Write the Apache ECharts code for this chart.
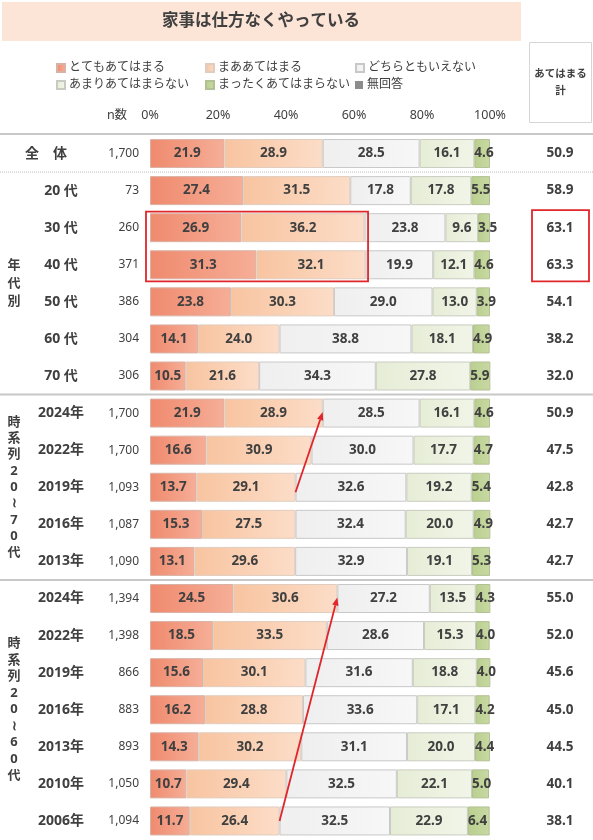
<!DOCTYPE html>
<html>
<head>
<meta charset="utf-8">
<title>家事は仕方なくやっている</title>
<script src="https://cdn.jsdelivr.net/npm/echarts@6/dist/echarts.min.js"></script>
<style>
  html, body { margin: 0; padding: 0; background: #fff; }
  #chart { width: 593px; height: 840px; }
</style>
</head>
<body>
<div id="chart"></div>
<script>
// 行ラベル・n数・各回答の割合（%）・あてはまる計
const categories = ['全　体', '20 代', '30 代', '40 代', '50 代', '60 代', '70 代',
    '2024年', '2022年', '2019年', '2016年', '2013年',
    '2024年', '2022年', '2019年', '2016年', '2013年', '2010年', '2006年'];
const nValues = [1700, 73, 260, 371, 386, 304, 306,
    1700, 1700, 1093, 1087, 1090,
    1394, 1398, 866, 883, 893, 1050, 1094];
const veryTrue = [21.9, 27.4, 26.9, 31.3, 23.8, 14.1, 10.5,
    21.9, 16.6, 13.7, 15.3, 13.1,
    24.5, 18.5, 15.6, 16.2, 14.3, 10.7, 11.7];
const fairlyTrue = [28.9, 31.5, 36.2, 32.1, 30.3, 24.0, 21.6,
    28.9, 30.9, 29.1, 27.5, 29.6,
    30.6, 33.5, 30.1, 28.8, 30.2, 29.4, 26.4];
const neither = [28.5, 17.8, 23.8, 19.9, 29.0, 38.8, 34.3,
    28.5, 30.0, 32.6, 32.4, 32.9,
    27.2, 28.6, 31.6, 33.6, 31.1, 32.5, 32.5];
const notMuch = [16.1, 17.8, 9.6, 12.1, 13.0, 18.1, 27.8,
    16.1, 17.7, 19.2, 20.0, 19.1,
    13.5, 15.3, 18.8, 17.1, 20.0, 22.1, 22.9];
const notAtAll = [4.6, 5.5, 3.5, 4.6, 3.9, 4.9, 5.9,
    4.6, 4.7, 5.4, 4.9, 5.3,
    4.3, 4.0, 4.0, 4.2, 4.4, 5.0, 6.4];
const noAnswer = [0, 0, 0, 0, 0, 0, 0,
    0, 0, 0, 0, 0,
    0, 0, 0, 0, 0, 0, 0];
const totals = [50.9, 58.9, 63.1, 63.3, 54.1, 38.2, 32.0,
    50.9, 47.5, 42.8, 42.7, 42.7,
    55.0, 52.0, 45.6, 45.0, 44.5, 40.1, 38.1];
const xTicks = [0, 20, 40, 60, 80, 100];

const names = ['とてもあてはまる', 'まああてはまる', 'どちらともいえない',
    'あまりあてはまらない', 'まったくあてはまらない', '無回答'];

const chart = echarts.init(document.getElementById('chart'), null, { renderer: 'canvas' });

const FONT = "'Noto Sans', 'Noto Sans CJK JP', sans-serif";
const TXT = '#404040';
const GRID_TOP = 135;
const GRID_BOTTOM = 0.5;
const BAR_H = 29;
const ROW_H = (840 - GRID_TOP - GRID_BOTTOM) / categories.length;

function grad(c1, c2) {
    return new echarts.graphic.LinearGradient(0, 0, 1, 0, [
        { offset: 0, color: c1 },
        { offset: 1, color: c2 }
    ]);
}

const styles = [
    { color: grad('#EF8A6E', '#F6AE97'), borderColor: '#D9B2A6' },
    { color: grad('#F8C4A0', '#FCDDC8'), borderColor: '#E0CDBF' },
    { color: grad('#EFEFEF', '#F7F7F7'), borderColor: '#C8C8C8' },
    { color: grad('#E6EDD6', '#F1F5E8'), borderColor: '#C8CCC0' },
    { color: grad('#BACF8E', '#C8D9A4'), borderColor: '#B3C093' },
    { color: '#8C8C8C', borderColor: '#8C8C8C' }
];
const seriesData = [veryTrue, fairlyTrue, neither, notMuch, notAtAll, noAnswer];

const series = seriesData.map(function (data, i) {
    return {
        name: names[i],
        type: 'bar',
        stack: 'total',
        data: data,
        barWidth: BAR_H,
        yAxisIndex: 0,
        itemStyle: {
            color: styles[i].color,
            borderColor: styles[i].borderColor,
            borderWidth: i === 5 ? 0 : 1
        },
        label: {
            show: i !== 5,
            position: i === 4 ? 'insideLeft' : 'inside',
            distance: 0,
            color: TXT,
            fontFamily: FONT,
            fontSize: 13.5,
            fontWeight: 'bold',
            formatter: function (p) { return p.value.toFixed(1); }
        },
        emphasis: { disabled: true },
        animation: false
    };
});

// 凡例は2段×3列、項目ごとに位置を指定
const legendPos = [[56, 62], [205, 62], [355, 62], [56, 79], [205, 79], [355, 79]];
const legends = names.map(function (n, i) {
    return {
        data: [n],
        left: legendPos[i][0],
        top: legendPos[i][1],
        padding: 0,
        icon: 'rect',
        itemWidth: 8,
        itemHeight: 8,
        selectedMode: false,
        textStyle: { color: TXT, fontSize: 12, fontFamily: FONT, padding: [0, 0, 0, -1] }
    };
});

const yBase = {
    type: 'category',
    data: categories,
    inverse: true,
    gridIndex: 0,
    axisLine: { show: false },
    axisTick: { show: false },
    splitLine: { show: false }
};

const option = {
    backgroundColor: '#fff',
    animation: false,
    legend: legends,
    grid: {
        left: 150,
        right: 103,
        top: GRID_TOP,
        bottom: GRID_BOTTOM,
        containLabel: false,
        outerBoundsMode: 'none'
    },
    xAxis: {
        type: 'value',
        position: 'top',
        min: xTicks[0],
        max: xTicks[xTicks.length - 1],
        interval: xTicks[1] - xTicks[0],
        axisLine: { show: false },
        axisTick: { show: false },
        splitLine: { show: false },
        axisLabel: {
            margin: 13,
            color: TXT,
            fontSize: 12.5,
            fontFamily: FONT,
            formatter: '{value}%'
        }
    },
    yAxis: [
        Object.assign({}, yBase, {
            position: 'left',
            offset: 0,
            axisLabel: {
                interval: 0,
                margin: 89,
                align: 'center',
                color: TXT,
                fontFamily: FONT,
                fontSize: 14,
                fontWeight: 'bold',
                formatter: function (v, idx) {
                    return idx === 0 ? '{z|' + v + '}' : v;
                },
                rich: {
                    z: { fontFamily: FONT, fontSize: 14, fontWeight: 'bold', color: TXT, padding: [0, 30, 0, 0] }
                }
            }
        }),
        Object.assign({}, yBase, {
            position: 'left',
            offset: 0,
            axisLabel: {
                interval: 0,
                margin: 11,
                color: TXT,
                fontFamily: FONT,
                fontSize: 12,
                formatter: function (v, idx) { return nValues[idx].toLocaleString('en-US'); }
            }
        }),
        Object.assign({}, yBase, {
            position: 'right',
            offset: 0,
            axisLabel: {
                interval: 0,
                margin: 70,
                align: 'center',
                color: TXT,
                fontFamily: FONT,
                fontSize: 13.5,
                fontWeight: 'bold',
                formatter: function (v, idx) { return totals[idx].toFixed(1); }
            }
        })
    ],
    series: series
};

chart.setOption(option);

// 区切り線・見出しなどの装飾
function rowEdge(k) { return GRID_TOP + k * ROW_H; }

function vText(str, cx, cy, step) {
    const chars = str.split('');
    return {
        type: 'text',
        style: {
            text: chars.join('\n'),
            x: cx,
            y: cy,
            align: 'center',
            verticalAlign: 'middle',
            lineHeight: step,
            fill: TXT,
            font: 'bold 13px ' + FONT
        }
    };
}

const graphics = [
    { type: 'rect', shape: { x: 2, y: 2, width: 519, height: 39 }, style: { fill: '#FCE4D6' } },
    { type: 'text', style: { text: '家事は仕方なくやっている', x: 261, y: 21, align: 'center', verticalAlign: 'middle', fill: TXT, font: 'bold 16.5px ' + FONT } },
    { type: 'rect', shape: { x: 529.5, y: 42.5, width: 62, height: 80 }, style: { fill: 'none', stroke: '#D6D6D6', lineWidth: 1 } },
    { type: 'text', style: { text: 'あてはまる\n計', x: 560.5, y: 83, align: 'center', verticalAlign: 'middle', lineHeight: 17, fill: TXT, font: 'bold 10.5px ' + FONT } },
    { type: 'text', style: { text: 'n数', x: 117, y: 115, align: 'center', verticalAlign: 'middle', fill: TXT, font: '12.5px ' + FONT } },
    { type: 'line', shape: { x1: 0, y1: rowEdge(0) - 1, x2: 593, y2: rowEdge(0) - 1 }, style: { stroke: '#C8C8C8', lineWidth: 2 } },
    { type: 'line', shape: { x1: 0, y1: rowEdge(1), x2: 593, y2: rowEdge(1) }, style: { stroke: '#BBBBBB', lineWidth: 1, lineDash: [1, 1] } },
    { type: 'line', shape: { x1: 0, y1: rowEdge(7), x2: 593, y2: rowEdge(7) }, style: { stroke: '#C8C8C8', lineWidth: 2 } },
    { type: 'line', shape: { x1: 0, y1: rowEdge(12), x2: 593, y2: rowEdge(12) }, style: { stroke: '#C8C8C8', lineWidth: 2 } },
    vText('年代別', 14, (rowEdge(1) + rowEdge(7)) / 2, 18),
    vText('時系列20≀70代', 14, (rowEdge(7) + rowEdge(12)) / 2, 16.3),
    vText('時系列20≀60代', 14, (rowEdge(12) + rowEdge(19)) / 2, 16.5)
];

// 赤枠と矢印は軸の位置から求める（棒の上に描く）
const RED = '#E0262B';
function px(x, row) { return chart.convertToPixel({ seriesIndex: 0 }, [x, row]); }

const boxRight = Math.max(veryTrue[2] + fairlyTrue[2], veryTrue[3] + fairlyTrue[3]);
const b0 = px(0, 2), b1 = px(boxRight, 3);
graphics.push({
    type: 'rect',
    z: 100,
    shape: { x: b0[0] - 4, y: b0[1] - BAR_H / 2 - 1.5, width: b1[0] - b0[0] + 6.5, height: b1[1] - b0[1] + BAR_H + 3.5 },
    style: { fill: 'none', stroke: RED, lineWidth: 1.8 }
});
const t0 = px(0, 2), t1 = px(0, 3);
graphics.push({
    type: 'rect',
    z: 100,
    shape: { x: 532, y: t0[1] - BAR_H / 2 - 3, width: 57, height: t1[1] - t0[1] + BAR_H + 5 },
    style: { fill: 'none', stroke: RED, lineWidth: 1.8 }
});

function arrow(fromRow, toRow, dy0) {
    const a = px(veryTrue[fromRow] + fairlyTrue[fromRow], fromRow);
    const b = px(veryTrue[toRow] + fairlyTrue[toRow], toRow);
    const x1 = a[0], y1 = a[1] + dy0, x2 = b[0], y2 = b[1] - 1;
    const ang = Math.atan2(y2 - y1, x2 - x1);
    const len = 8, half = 3.2;
    const bx = x2 - len * Math.cos(ang), by = y2 - len * Math.sin(ang);
    graphics.push({
        type: 'line',
        z: 100,
        shape: { x1: x1, y1: y1, x2: bx, y2: by },
        style: { stroke: RED, lineWidth: 1.8 }
    });
    graphics.push({
        type: 'polygon',
        z: 100,
        shape: {
            points: [
                [x2, y2],
                [bx + half * Math.sin(ang), by - half * Math.cos(ang)],
                [bx - half * Math.sin(ang), by + half * Math.cos(ang)]
            ]
        },
        style: { fill: RED }
    });
}
arrow(9, 7, 5);
arrow(18, 12, 0);

chart.setOption({ graphic: graphics });
</script>
</body>
</html>
